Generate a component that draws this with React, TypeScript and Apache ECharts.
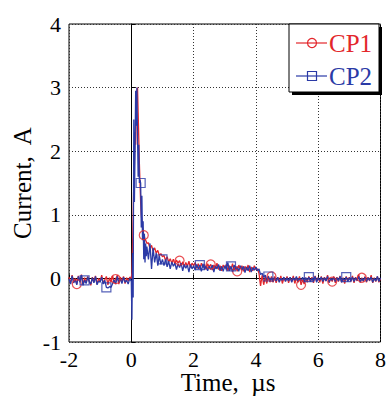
import React, { useEffect, useRef } from "react";
import * as echarts from "echarts";

// Sampling segments (start time in µs, step in µs)
const segAStart = -2.0, segAStep = 0.05; // -2.00 .. -0.05
const segBStart = 0.0, segBStep = 0.02;  // 0.00 .. 0.50
const segCStart = 0.55, segCStep = 0.05; // 0.55 .. 8.00

const cp1SegA = [0.02,-0.08,0.05,-0.06,0.00,-0.09,0.04,-0.05,0.06,-0.10,0.01,-0.07,0.03,-0.04,-0.11,0.02,-0.06,0.04,-0.09,0.00,-0.05,0.05,-0.08,-0.02,0.03,-0.10,0.01,-0.06,0.04,-0.07,-0.01,0.05,-0.09,0.02,-0.05,0.03,-0.08,0.01,-0.04,0.02];
const cp2SegA = [-0.01,-0.09,0.04,-0.07,-0.02,-0.10,0.03,-0.06,0.05,-0.11,-0.03,-0.08,0.02,-0.05,-0.09,0.01,-0.07,0.03,-0.10,-0.04,-0.06,0.02,-0.09,-0.03,-0.14,-0.15,-0.13,-0.14,-0.08,-0.02,-0.09,0.03,-0.07,-0.01,-0.08,0.02,-0.06,-0.03,-0.09,0.00];

const cp1SegB = [0.00,0.10,0.50,1.00,1.50,1.80,2.30,2.10,2.60,2.95,3.00,2.60,2.20,1.80,1.50,1.20,1.00,0.90,0.80,0.75,0.68,0.66,0.62,0.60,0.58,0.55];
const cp2SegB = [-0.05,-0.65,0.40,-0.30,2.50,1.20,2.00,2.95,2.40,3.00,2.20,1.60,2.10,1.50,1.55,1.50,0.80,1.30,0.60,0.90,0.30,0.70,0.25,0.55,0.35,0.50];

const cp1SegC = [
  0.56,0.47,0.52,0.43,0.48,0.40,0.44,0.36,0.39,0.34,
  0.36,0.28,0.34,0.26,0.31,0.24,0.30,0.23,0.29,0.24,
  0.28,0.20,0.26,0.18,0.25,0.19,0.27,0.17,0.24,0.20,
  0.25,0.16,0.23,0.15,0.24,0.17,0.22,0.14,0.23,0.18,
  0.22,0.13,0.21,0.15,0.24,0.14,0.20,0.12,0.21,0.16,
  0.22,0.12,0.20,0.14,0.23,0.13,0.19,0.11,0.21,0.15,
  0.20,0.11,0.19,0.13,0.21,0.10,0.18,0.12,0.20,0.14,
  0.15,0.08,-0.12,0.05,-0.10,0.02,-0.08,0.04,-0.06,0.03,
  -0.06,0.03,-0.07,0.02,-0.05,0.04,-0.08,0.01,-0.04,0.03,
  -0.07,0.02,-0.05,0.04,-0.08,0.01,-0.06,0.03,-0.10,-0.02,
  -0.09,0.01,-0.06,0.03,-0.05,0.02,-0.07,0.04,-0.04,0.01,
  -0.06,0.03,-0.08,0.02,-0.04,0.05,-0.07,0.00,-0.05,0.03,
  -0.07,0.02,-0.05,0.04,-0.06,0.01,-0.08,0.03,-0.04,0.02,
  -0.05,0.04,-0.07,0.02,-0.04,0.06,-0.06,0.01,-0.05,0.03,
  -0.06,0.02,-0.04,0.05,-0.07,0.01,-0.05,0.03,-0.06,0.00
];
const cp2SegC = [
  0.30,0.55,0.15,0.48,0.25,0.40,0.20,0.35,0.22,0.30,
  0.20,0.30,0.18,0.27,0.15,0.26,0.19,0.24,0.14,0.23,
  0.17,0.24,0.12,0.22,0.16,0.21,0.10,0.22,0.15,0.20,
  0.13,0.22,0.15,0.21,0.11,0.23,0.14,0.20,0.12,0.19,
  0.14,0.21,0.10,0.20,0.15,0.22,0.12,0.19,0.11,0.20,
  0.14,0.25,0.12,0.19,0.10,0.21,0.15,0.18,0.11,0.20,
  0.13,0.19,0.09,0.18,0.12,0.20,0.10,0.17,0.13,0.18,
  0.12,0.15,0.06,0.08,0.02,0.05,-0.02,0.03,-0.04,0.01,
  -0.05,0.01,-0.04,0.02,-0.06,0.00,-0.03,0.02,-0.05,0.01,
  -0.04,0.02,-0.06,0.01,-0.03,0.03,-0.05,0.00,-0.04,0.02,
  -0.06,0.01,-0.03,0.02,-0.05,0.00,-0.04,0.03,-0.06,0.01,
  -0.03,0.02,-0.05,0.01,-0.04,0.03,-0.06,0.00,-0.03,0.02,
  -0.05,0.01,-0.04,0.03,-0.06,0.00,-0.03,0.02,-0.05,0.01,
  -0.04,0.02,-0.05,0.01,-0.03,0.03,-0.06,0.00,-0.04,0.02,
  -0.05,0.01,-0.03,0.02,-0.06,0.00,-0.04,0.03,-0.05,0.01
];

// Indices (into the combined sample list) where markers are drawn
const cp1MarkerIdx = [5, 30, 60, 86, 106, 123, 145, 164, 184, 203];
const cp2MarkerIdx = [10, 24, 55, 75, 99, 119, 143, 169, 193];

const xTicks = [-2, 0, 2, 4, 6, 8];
const yTicks = [-1, 0, 1, 2, 3, 4];

function buildSeg(start: number, step: number, vals: number[]) {
  return vals.map((v, i) => [+(start + i * step).toFixed(3), v]);
}

const cp1Data = [
  ...buildSeg(segAStart, segAStep, cp1SegA),
  ...buildSeg(segBStart, segBStep, cp1SegB),
  ...buildSeg(segCStart, segCStep, cp1SegC),
];
const cp2Data = [
  ...buildSeg(segAStart, segAStep, cp2SegA),
  ...buildSeg(segBStart, segBStep, cp2SegB),
  ...buildSeg(segCStart, segCStep, cp2SegC),
];

const RED = "#e3262b";
const BLUE = "#2b3aa6";
const FONT = "Liberation Serif";

export default function App() {
  const ref = useRef<HTMLDivElement>(null);
  useEffect(() => {
    if (!ref.current) return;
    const chart = echarts.init(ref.current, null, { renderer: "svg" });
    chart.setOption({
      animation: false,
      backgroundColor: "#ffffff",
      grid: {
        left: 69, top: 24, right: 6, bottom: 58,
        show: true, borderColor: "#000", borderWidth: 1, backgroundColor: "transparent",
      },
      xAxis: {
        type: "value", min: xTicks[0], max: xTicks[xTicks.length - 1], interval: 2,
        axisLine: { show: true, lineStyle: { color: "#000", width: 1 } },
        axisTick: { show: true, inside: true, length: 4, lineStyle: { color: "#000" } },
        axisLabel: { color: "#000", fontFamily: FONT, fontSize: 22, margin: 6 },
        splitLine: { show: true, lineStyle: { color: "#333", type: [1, 2], width: 1 } },
      },
      yAxis: {
        type: "value", min: yTicks[0], max: yTicks[yTicks.length - 1], interval: 1,
        axisLine: { show: true, lineStyle: { color: "#000", width: 1 } },
        axisTick: { show: true, inside: true, length: 4, lineStyle: { color: "#000" } },
        axisLabel: { color: "#000", fontFamily: FONT, fontSize: 22, margin: 8 },
        splitLine: { show: true, lineStyle: { color: "#333", type: [1, 2], width: 1 } },
      },
      series: [
        {
          type: "line", name: "CP1", data: cp1Data, showSymbol: false,
          lineStyle: { color: RED, width: 1.3 }, z: 2,
        },
        {
          type: "line", name: "CP2", data: cp2Data, showSymbol: false,
          lineStyle: { color: BLUE, width: 1.3 }, z: 3,
        },
        {
          type: "scatter", name: "CP1 markers",
          data: cp1MarkerIdx.map((i) => cp1Data[i]),
          symbol: "circle", symbolSize: 9,
          itemStyle: { color: "transparent", borderColor: RED, borderWidth: 1.2 }, z: 4,
        },
        {
          type: "scatter", name: "CP2 markers",
          data: cp2MarkerIdx.map((i) => cp2Data[i]),
          symbol: "rect", symbolSize: 9,
          itemStyle: { color: "transparent", borderColor: BLUE, borderWidth: 1.2 }, z: 4,
        },
      ],
      graphic: [
        { type: "rect", shape: { x: 292, y: 27, width: 90, height: 68 }, style: { fill: "#000" }, z: 10 },
        { type: "rect", shape: { x: 289, y: 24, width: 90, height: 68 }, style: { fill: "#fff", stroke: "#000", lineWidth: 1 }, z: 11 },
        { type: "line", shape: { x1: 296, y1: 43, x2: 327, y2: 43 }, style: { stroke: RED, lineWidth: 1.2 }, z: 12 },
        { type: "circle", shape: { cx: 312, cy: 43, r: 4.5 }, style: { fill: "none", stroke: RED, lineWidth: 1.2 }, z: 12 },
        { type: "text", x: 329, y: 43, style: { text: "CP1", fill: RED, font: `25px ${FONT}`, verticalAlign: "middle" }, z: 12 },
        { type: "line", shape: { x1: 296, y1: 76, x2: 327, y2: 76 }, style: { stroke: BLUE, lineWidth: 1.2 }, z: 12 },
        { type: "rect", shape: { x: 307.5, y: 71.5, width: 9, height: 9 }, style: { fill: "none", stroke: BLUE, lineWidth: 1.2 }, z: 12 },
        { type: "text", x: 329, y: 76, style: { text: "CP2", fill: BLUE, font: `25px ${FONT}`, verticalAlign: "middle" }, z: 12 },
        { type: "text", x: 228, y: 382, style: { text: "Time,  \u00b5s", fill: "#000", font: `25px ${FONT}`, align: "center", verticalAlign: "middle" }, z: 12 },
        { type: "text", x: 22, y: 183, rotation: Math.PI / 2, style: { text: "Current,  A", fill: "#000", font: `25px ${FONT}`, align: "center", verticalAlign: "middle" }, z: 12 },
      ],
    });
    return () => chart.dispose();
  }, []);
  return <div ref={ref} style={{ width: 389, height: 400, position: "absolute", left: 0, top: 0 }} />;
}
